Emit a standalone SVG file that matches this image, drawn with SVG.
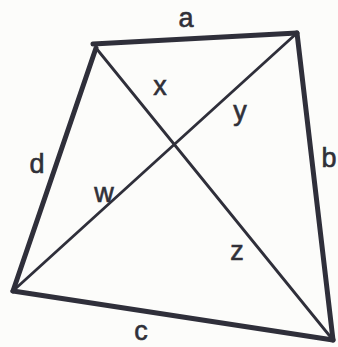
<svg xmlns="http://www.w3.org/2000/svg" width="338" height="347" viewBox="0 0 338 347">
<style>
.side{stroke:#2f2f3a;stroke-width:5;stroke-linecap:round;fill:none}
.diag{stroke:#2f2f3a;stroke-width:2.8;stroke-linecap:round;fill:none}
.lbl{font-family:"Liberation Sans",Arial,sans-serif;font-size:27px;fill:#303038;stroke:#303038;stroke-width:0.6;text-anchor:middle}
</style>
<rect width="338" height="347" fill="#fcfcfa"/>
<g id="sides">
<line class="side" x1="93" y1="44" x2="297" y2="33"/>
<line class="side" x1="297" y1="33" x2="333" y2="340"/>
<line class="side" x1="13" y1="291" x2="333" y2="340"/>
<line class="side" x1="13" y1="291" x2="96" y2="48"/>
</g>
<g id="diagonals">
<line class="diag" x1="96" y1="48" x2="333" y2="340"/>
<line class="diag" x1="14" y1="290" x2="297" y2="33"/>
</g>
<g id="labels">
<text class="lbl" x="186" y="27">a</text>
<text class="lbl" x="329" y="167">b</text>
<text class="lbl" x="141" y="340">c</text>
<text class="lbl" x="37" y="173">d</text>
<text class="lbl" x="160" y="95">x</text>
<text class="lbl" x="240" y="120">y</text>
<text class="lbl" x="104" y="202">w</text>
<text class="lbl" x="237" y="260">z</text>
</g>
</svg>
